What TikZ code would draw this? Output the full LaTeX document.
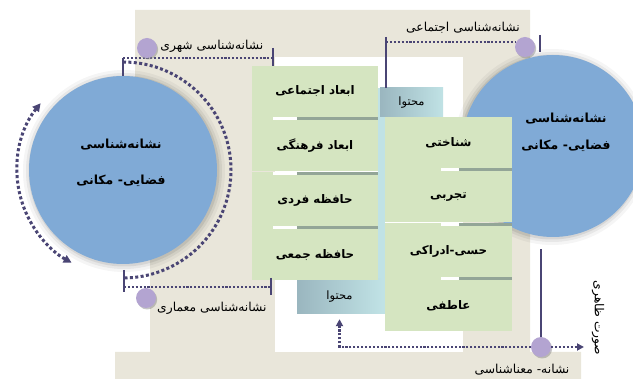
\documentclass[tikz,border=0pt]{standalone}
\usepackage{fontspec}
\newfontfamily\fa[Script=Arabic]{DejaVu Sans}
\TeXXeTstate=1
\usetikzlibrary{positioning,arrows.meta,shadows}
\definecolor{beige}{HTML}{E9E6DA}
\definecolor{boxgreen}{HTML}{D5E5C1}
\definecolor{circblue}{HTML}{80AAD6}
\definecolor{dotpurple}{HTML}{B3A4D1}
\definecolor{inkpurple}{HTML}{4A4574}
\definecolor{tealdark}{HTML}{9AB6BF}
\definecolor{teallight}{HTML}{C0E2E5}
\definecolor{seamgray}{HTML}{93A597}
\newcommand{\fatxt}[1]{\beginR #1\endR}
\begin{document}
\begin{tikzpicture}[x=1pt,y=-1pt,
    box/.style={fill=boxgreen,minimum width=126pt,minimum height=51pt,inner sep=0pt,font=\fa\bfseries\fontsize{11.8}{13}\selectfont},
    content/.style={left color=tealdark,right color=teallight,inner sep=0pt,font=\fa\fontsize{11.5}{13}\selectfont},
    bigcirc/.style={circle,fill=circblue,inner sep=0pt},
    circtitle/.style={font=\fa\bfseries\fontsize{12.5}{36}\selectfont,align=center},
    pdot/.style={circle,fill=dotpurple,minimum size=20pt,inner sep=0pt,drop shadow={shadow xshift=1.2pt,shadow yshift=-1.5pt,fill=black!45,opacity=.5}},
    lbl/.style={font=\fa\fontsize{12.3}{14}\selectfont,inner sep=1pt},
    tickline/.style={inkpurple,line width=1.4pt},
    dotline/.style={inkpurple,line width=2.1pt,dash pattern=on 2.1pt off 1.8pt},
    orbit/.style={inkpurple,line width=3pt,dash pattern=on 3pt off 2.4pt},
    arrowend/.style={-{Triangle[length=7pt,width=7pt]}}]
\clip (0,0) rectangle (633,379);
% background
\fill[beige] (135,10) -- (530,10) -- (530,352) -- (581,352) -- (581,379) -- (115,379)
  -- (115,352) -- (150,352) -- (150,170) -- (135,170) -- cycle;
\fill[white] (275,57) rectangle (463,352);
% circles
\foreach \r/\o in {101/.04,98/.06,95.5/.08} {\fill[black,opacity=\o] (124,171) circle (\r pt);}
\foreach \r/\o in {98/.04,95/.06,92.5/.08} {\fill[black,opacity=\o] (552,147) circle (\r pt);}
\node[bigcirc,minimum size=188pt] (lcirc) at (123,170) {};
\node[bigcirc,minimum size=182pt] (rcirc) at (553,146) {};
\draw[orbit] (lcirc.center) ++(-90:108) arc[start angle=-90,end angle=90,radius=108];
\draw[orbit,{Triangle[length=8pt,width=8pt]}-{Triangle[length=8pt,width=8pt]}]
  (lcirc.center) ++(219:106) arc[start angle=219,end angle=119,radius=106];
\node[circtitle] (ltitle) at (121,163) {\fatxt{نشانه^^^^200cشناسی}\\\fatxt{فضایی- مکانی}};
\node[circtitle,font=\fa\bfseries\fontsize{12.5}{27}\selectfont] (rtitle) at (566,132)
  {\fatxt{نشانه^^^^200cشناسی}\\\fatxt{فضایی- مکانی}};
% boxes
\fill[teallight] (378,88) rectangle (385,314);
\node[content,minimum width=63pt,minimum height=29pt] (ctop) at (411.5,102.5) {\fatxt{محتوا}};
\node[content,minimum width=85pt,minimum height=35pt] (cbot) at (339.5,296.5) {\fatxt{محتوا}};
\node[box] (bsoc) at (315,91.5) {\fatxt{ابعاد اجتماعی}};
\node[box,below=3pt of bsoc] (bcul) {\fatxt{ابعاد فرهنگی}};
\node[box,below=3pt of bcul] (bind) {\fatxt{حافظه فردی}};
\node[box,below=3pt of bind] (bcol) {\fatxt{حافظه جمعی}};
\node[box,minimum width=127pt] (bcog) at (448.5,142.5) {\fatxt{شناختی}};
\node[box,minimum width=127pt,below=3pt of bcog] (bexp) {\fatxt{تجربی}};
\node[box,minimum width=127pt,below=3pt of bexp] (bsen) {\fatxt{حسی-ادراکی}};
\node[box,minimum width=127pt,below=3pt of bsen] (bemo) {\fatxt{عاطفی}};
\foreach \a/\p/\q in {bsoc/21/45,bcul/21/45,bind/21/45,bcog/56/74,bexp/56/74,bsen/56/74} {
  \draw[boxgreen,line width=3pt] ([yshift=-1.5pt]\a.south west) -- ([xshift=\p pt,yshift=-1.5pt]\a.south west);
  \draw[white,line width=3pt] ([xshift=\p pt,yshift=-1.5pt]\a.south west) -- ([xshift=\q pt,yshift=-1.5pt]\a.south west);
  \draw[seamgray,line width=3pt] ([xshift=\q pt,yshift=-1.5pt]\a.south west) -- ([yshift=-1.5pt]\a.south east);
}
% urban
\coordinate (uA) at (123,58);
\coordinate (uB) at (273,58);
\draw[tickline] (uA) -- (lcirc.north);
\draw[tickline] ([yshift=10pt]uB) -- ([yshift=-8pt]uB);
\draw[dotline] (uA) -- (uB);
\node[pdot] (durb) at (147,48) {};
\node[lbl,right=2pt of durb,yshift=2pt] (turb) {\fatxt{نشانه^^^^200cشناسی شهری}};
% architecture
\coordinate (aA) at (124,287);
\coordinate (aB) at (271,287);
\draw[tickline] ([yshift=17pt]aA) -- ([yshift=-5pt]aA);
\draw[tickline] ([yshift=9pt]aB) -- ([yshift=-8pt]aB);
\draw[dotline] (aA) -- (aB);
\node[pdot] (darc) at (146,298) {};
\node[lbl,anchor=west] (tarc) at (156,308) {\fatxt{نشانه^^^^200cشناسی معماری}};
% social
\coordinate (sA) at (386,42);
\coordinate (sB) at (540,43);
\draw[tickline] ([yshift=5pt]sA) -- (sA |- ctop.north);
\draw[tickline] ([yshift=8pt]sB) -- ([yshift=-9pt]sB);
\node[pdot] (dsoc) at (525,47) {};
\draw[dotline] (sA) -- (sA -| dsoc.west);
\node[lbl] (tsoc) at (463,28) {\fatxt{نشانه^^^^200cشناسی اجتماعی}};
% semantics
\node[pdot] (dsem) at (541,347) {};
\coordinate (eR) at (584,347);
\draw[tickline,shorten <=12pt] (dsem |- rcirc.south) -- (dsem.north);
\draw[dotline,arrowend] (dsem.east) -- (eR);
\draw[dotline,arrowend,shorten >=5pt] (dsem.west) -| (cbot.south);
\node[lbl] (tsem) at (522,370) {\fatxt{نشانه- معناشناسی}};
\node[lbl,rotate=-90] (tform) at (598,318) {\fatxt{صورت ظاهری}};
\end{tikzpicture}
\end{document}
